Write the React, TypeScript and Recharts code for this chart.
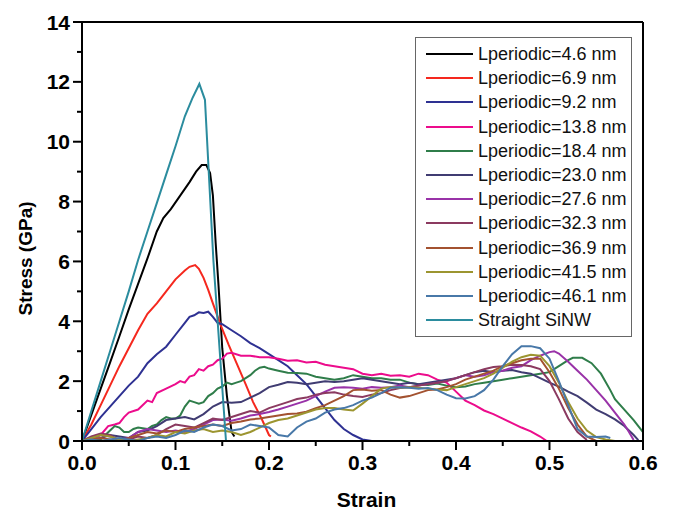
import { LineChart, Line, XAxis, YAxis, Legend, Label } from 'recharts'

// --- Data: [strain, stress GPa] ---

const l46: [number, number][] = [
  [0, 0], [0.01, 0.87], [0.02, 1.75], [0.03, 2.62], [0.04, 3.5], [0.05, 4.4], [0.06, 5.25],
  [0.07, 6.1], [0.08, 7.0], [0.087, 7.45], [0.095, 7.75], [0.105, 8.2], [0.115, 8.65],
  [0.122, 9.0], [0.128, 9.22], [0.133, 9.22], [0.137, 8.95], [0.14, 8.2], [0.143, 6.6],
  [0.146, 5.2], [0.15, 3.1], [0.155, 1.5], [0.16, 0.3], [0.163, 0.15],
]

const l69: [number, number][] = [
  [0, 0], [0.01, 0.55], [0.02, 1.2], [0.03, 1.85], [0.04, 2.5], [0.05, 3.1], [0.06, 3.7],
  [0.07, 4.25], [0.08, 4.6], [0.09, 5.0], [0.1, 5.4], [0.11, 5.7], [0.115, 5.82], [0.121, 5.88],
  [0.125, 5.75], [0.13, 5.45], [0.135, 5.05], [0.14, 4.6], [0.148, 3.9], [0.157, 3.2],
  [0.166, 2.55], [0.175, 1.9], [0.183, 1.3], [0.192, 0.75], [0.2, 0.2], [0.202, 0.15],
]

const l92: [number, number][] = [
  [0, 0], [0.01, 0.4], [0.02, 0.8], [0.03, 1.15], [0.04, 1.5], [0.05, 1.85], [0.06, 2.15],
  [0.07, 2.6], [0.08, 2.9], [0.09, 3.15], [0.1, 3.55], [0.11, 3.95], [0.115, 4.15], [0.12, 4.2],
  [0.125, 4.3], [0.13, 4.28], [0.135, 4.32], [0.14, 4.15], [0.145, 3.95], [0.15, 3.9],
  [0.16, 3.7], [0.17, 3.5], [0.18, 3.27], [0.19, 3.1], [0.2, 2.9], [0.21, 2.7], [0.22, 2.5],
  [0.23, 2.2], [0.24, 1.9], [0.25, 1.5], [0.26, 1.1], [0.27, 0.7], [0.28, 0.4], [0.29, 0.2],
  [0.3, 0.05], [0.31, 0],
]

const l138: [number, number][] = [
  [0, 0], [0.01, 0.05], [0.02, 0.2], [0.028, 0.5], [0.035, 0.55], [0.04, 0.6], [0.045, 0.8],
  [0.05, 0.95], [0.06, 1.05], [0.07, 1.35], [0.075, 1.3], [0.08, 1.6], [0.09, 1.75], [0.1, 1.9],
  [0.105, 2.0], [0.11, 1.95], [0.115, 2.15], [0.12, 2.2], [0.125, 2.4], [0.13, 2.35],
  [0.135, 2.5], [0.14, 2.55], [0.145, 2.7], [0.15, 2.75], [0.155, 2.92], [0.16, 2.95],
  [0.17, 2.85], [0.18, 2.85], [0.19, 2.8], [0.2, 2.8], [0.21, 2.75], [0.22, 2.68], [0.23, 2.7],
  [0.24, 2.62], [0.25, 2.65], [0.26, 2.55], [0.27, 2.5], [0.28, 2.45], [0.29, 2.4], [0.3, 2.25],
  [0.31, 2.2], [0.32, 2.25], [0.33, 2.18], [0.34, 2.2], [0.35, 2.15], [0.36, 2.25], [0.37, 2.2],
  [0.38, 2.05], [0.39, 1.95], [0.4, 1.65], [0.41, 1.35], [0.42, 1.2], [0.43, 1.02], [0.44, 0.9],
  [0.45, 0.75], [0.46, 0.6], [0.47, 0.45], [0.48, 0.32], [0.49, 0.15], [0.497, 0],
]

const l184: [number, number][] = [
  [0, 0], [0.01, 0], [0.02, 0.05], [0.03, 0.35], [0.035, 0.5], [0.04, 0.45], [0.045, 0.3],
  [0.05, 0.3], [0.055, 0.4], [0.06, 0.45], [0.07, 0.4], [0.075, 0.5], [0.08, 0.55], [0.085, 0.7],
  [0.09, 0.8], [0.095, 0.75], [0.1, 0.75], [0.105, 0.85], [0.11, 1.15], [0.115, 1.35],
  [0.12, 1.3], [0.125, 1.25], [0.13, 1.3], [0.135, 1.5], [0.14, 1.6], [0.145, 1.75],
  [0.15, 1.82], [0.155, 1.95], [0.16, 1.9], [0.165, 1.95], [0.17, 2.0], [0.175, 2.1],
  [0.18, 2.2], [0.185, 2.35], [0.19, 2.45], [0.195, 2.48], [0.2, 2.42], [0.21, 2.35],
  [0.22, 2.28], [0.23, 2.27], [0.24, 2.25], [0.25, 2.15], [0.26, 2.1], [0.27, 2.05], [0.28, 2.1],
  [0.29, 2.2], [0.3, 2.15], [0.31, 2.1], [0.32, 2.1], [0.33, 2.05], [0.34, 2.05], [0.35, 1.95],
  [0.36, 1.9], [0.37, 1.87], [0.38, 1.92], [0.39, 1.85], [0.4, 1.8], [0.41, 1.82], [0.42, 1.9],
  [0.43, 1.95], [0.44, 2.0], [0.45, 2.05], [0.46, 2.1], [0.47, 2.15], [0.48, 2.2], [0.49, 2.25],
  [0.5, 2.3], [0.51, 2.5], [0.52, 2.7], [0.525, 2.78], [0.535, 2.78], [0.545, 2.6],
  [0.555, 2.25], [0.565, 1.7], [0.57, 1.4], [0.58, 1.05], [0.59, 0.7], [0.6, 0.3],
]

const l230: [number, number][] = [
  [0, 0], [0.02, 0.1], [0.03, 0.2], [0.04, 0.15], [0.05, 0.1], [0.06, 0.3], [0.07, 0.35],
  [0.08, 0.5], [0.09, 0.7], [0.1, 0.75], [0.11, 0.8], [0.12, 0.72], [0.13, 0.9], [0.14, 1.15],
  [0.15, 1.3], [0.16, 1.28], [0.17, 1.3], [0.18, 1.45], [0.19, 1.6], [0.2, 1.8], [0.21, 1.88],
  [0.22, 1.97], [0.23, 1.95], [0.24, 1.9], [0.25, 1.95], [0.26, 2.0], [0.27, 1.97], [0.28, 2.0],
  [0.29, 2.05], [0.3, 2.1], [0.31, 2.05], [0.32, 2.0], [0.33, 1.95], [0.34, 1.9], [0.35, 1.95],
  [0.36, 1.9], [0.37, 1.95], [0.38, 2.0], [0.39, 2.05], [0.4, 2.1], [0.41, 2.2], [0.42, 2.3],
  [0.43, 2.35], [0.44, 2.3], [0.45, 2.35], [0.46, 2.37], [0.47, 2.3], [0.48, 2.25], [0.49, 2.1],
  [0.5, 1.95], [0.51, 1.82], [0.52, 1.65], [0.53, 1.5], [0.54, 1.28], [0.55, 1.05], [0.56, 0.9],
  [0.57, 0.72], [0.58, 0.5], [0.59, 0.2], [0.595, 0.03],
]

const l276: [number, number][] = [
  [0, 0], [0.01, 0.1], [0.02, 0.2], [0.03, 0.15], [0.04, 0.05], [0.05, 0.1], [0.06, 0.3],
  [0.07, 0.4], [0.08, 0.35], [0.09, 0.3], [0.1, 0.35], [0.11, 0.3], [0.12, 0.4], [0.13, 0.55],
  [0.14, 0.7], [0.15, 0.72], [0.16, 0.68], [0.17, 0.75], [0.18, 0.85], [0.19, 0.9], [0.2, 0.97],
  [0.21, 1.05], [0.22, 1.15], [0.23, 1.25], [0.24, 1.35], [0.25, 1.5], [0.26, 1.65],
  [0.27, 1.78], [0.28, 1.8], [0.29, 1.78], [0.3, 1.75], [0.31, 1.8], [0.32, 1.78], [0.33, 1.8],
  [0.34, 1.85], [0.35, 1.8], [0.36, 1.85], [0.37, 1.9], [0.38, 1.95], [0.39, 2.0], [0.4, 2.1],
  [0.41, 2.2], [0.42, 2.15], [0.43, 2.2], [0.44, 2.3], [0.45, 2.35], [0.46, 2.45], [0.47, 2.5],
  [0.48, 2.7], [0.49, 2.85], [0.5, 2.97], [0.505, 3.0], [0.51, 2.92], [0.52, 2.65],
  [0.53, 2.35], [0.54, 2.05], [0.55, 1.7], [0.56, 1.35], [0.57, 0.95], [0.58, 0.55],
  [0.585, 0.3], [0.59, 0.03],
]

const l323: [number, number][] = [
  [0, 0], [0.01, 0.15], [0.02, 0.25], [0.03, 0.2], [0.04, 0], [0.05, 0.05], [0.06, 0.15],
  [0.07, 0.1], [0.08, 0.2], [0.09, 0.4], [0.1, 0.55], [0.11, 0.5], [0.12, 0.45], [0.13, 0.6],
  [0.14, 0.75], [0.15, 0.7], [0.16, 0.8], [0.17, 0.9], [0.18, 1.0], [0.19, 0.95], [0.2, 1.1],
  [0.21, 1.2], [0.22, 1.3], [0.23, 1.4], [0.24, 1.45], [0.25, 1.55], [0.26, 1.6], [0.27, 1.63],
  [0.28, 1.55], [0.29, 1.5], [0.3, 1.47], [0.31, 1.55], [0.32, 1.6], [0.33, 1.7], [0.34, 1.77],
  [0.35, 1.8], [0.36, 1.85], [0.37, 1.9], [0.38, 1.95], [0.39, 2.0], [0.4, 2.1], [0.41, 2.2],
  [0.42, 2.3], [0.43, 2.4], [0.44, 2.47], [0.45, 2.5], [0.46, 2.55], [0.47, 2.54], [0.48, 2.5],
  [0.49, 2.4], [0.5, 2.0], [0.51, 1.4], [0.52, 0.75], [0.53, 0.3], [0.54, 0.03],
]

const l369: [number, number][] = [
  [0, 0], [0.01, 0.05], [0.02, 0.1], [0.03, 0.05], [0.04, 0], [0.05, 0.1], [0.06, 0.2],
  [0.07, 0.3], [0.08, 0.25], [0.09, 0.35], [0.1, 0.3], [0.11, 0.4], [0.12, 0.45], [0.13, 0.5],
  [0.14, 0.55], [0.15, 0.5], [0.16, 0.6], [0.17, 0.65], [0.18, 0.72], [0.19, 0.75], [0.2, 0.8],
  [0.21, 0.85], [0.22, 0.9], [0.23, 0.92], [0.24, 0.98], [0.25, 1.1], [0.26, 1.2], [0.27, 1.35],
  [0.28, 1.5], [0.29, 1.7], [0.3, 1.72], [0.31, 1.68], [0.32, 1.7], [0.33, 1.55], [0.34, 1.45],
  [0.35, 1.5], [0.36, 1.6], [0.37, 1.7], [0.38, 1.72], [0.39, 1.8], [0.4, 1.9], [0.41, 2.05],
  [0.42, 2.15], [0.43, 2.25], [0.44, 2.35], [0.45, 2.5], [0.46, 2.6], [0.47, 2.7], [0.48, 2.75],
  [0.49, 2.75], [0.5, 2.3], [0.51, 1.75], [0.52, 1.1], [0.53, 0.55], [0.54, 0.15], [0.55, 0],
]

const l415: [number, number][] = [
  [0, 0], [0.01, 0.1], [0.02, 0.2], [0.03, 0.15], [0.04, 0.05], [0.05, 0], [0.06, 0.05],
  [0.07, 0.1], [0.08, 0.2], [0.09, 0.15], [0.1, 0.3], [0.11, 0.25], [0.12, 0.35], [0.13, 0.4],
  [0.14, 0.3], [0.15, 0.35], [0.16, 0.3], [0.17, 0.2], [0.18, 0.3], [0.19, 0.45], [0.2, 0.6],
  [0.21, 0.7], [0.22, 0.75], [0.23, 0.85], [0.24, 0.95], [0.25, 1.05], [0.26, 1.1], [0.27, 1.1],
  [0.28, 1.05], [0.29, 1.02], [0.3, 1.25], [0.31, 1.5], [0.32, 1.75], [0.33, 1.8], [0.34, 1.78],
  [0.35, 1.8], [0.36, 1.78], [0.37, 1.75], [0.38, 1.72], [0.39, 1.7], [0.4, 1.8], [0.41, 1.9],
  [0.42, 2.0], [0.43, 2.1], [0.44, 2.25], [0.45, 2.45], [0.46, 2.65], [0.47, 2.8], [0.48, 2.88],
  [0.49, 2.85], [0.5, 2.5], [0.51, 1.95], [0.52, 1.3], [0.53, 0.75], [0.54, 0.35], [0.55, 0.13],
  [0.56, 0.05], [0.57, 0],
]

const l461: [number, number][] = [
  [0, 0], [0.01, 0.05], [0.02, 0], [0.03, 0.05], [0.04, 0.1], [0.05, 0.05], [0.06, 0],
  [0.07, 0.1], [0.08, 0.15], [0.09, 0.1], [0.1, 0.2], [0.11, 0.35], [0.12, 0.3], [0.13, 0.45],
  [0.14, 0.55], [0.15, 0.5], [0.16, 0.35], [0.17, 0.4], [0.18, 0.55], [0.19, 0.5], [0.2, 0.45],
  [0.21, 0.2], [0.22, 0.15], [0.23, 0.45], [0.24, 0.65], [0.25, 0.75], [0.26, 0.95],
  [0.27, 1.05], [0.28, 1.1], [0.29, 1.2], [0.3, 1.35], [0.31, 1.45], [0.32, 1.6], [0.33, 1.78],
  [0.34, 1.8], [0.35, 1.78], [0.36, 1.75], [0.37, 1.77], [0.38, 1.7], [0.39, 1.55], [0.4, 1.43],
  [0.41, 1.42], [0.42, 1.5], [0.43, 1.7], [0.44, 2.05], [0.45, 2.5], [0.46, 2.9], [0.47, 3.17],
  [0.48, 3.17], [0.49, 3.1], [0.5, 2.75], [0.51, 2.0], [0.52, 1.2], [0.53, 0.4], [0.54, 0.15],
  [0.55, 0.13], [0.56, 0.15], [0.565, 0.1],
]

const straight: [number, number][] = [
  [0, 0], [0.01, 1.0], [0.02, 2.0], [0.03, 3.0], [0.04, 4.0], [0.05, 5.0], [0.06, 6.05],
  [0.07, 7.0], [0.08, 7.95], [0.09, 8.9], [0.1, 9.85], [0.11, 10.85], [0.118, 11.45],
  [0.1255, 11.93], [0.1315, 11.4], [0.1405, 6.05], [0.154, 0],
]

const seriesNames = [
  'Lperiodic=4.6 nm', 'Lperiodic=6.9 nm', 'Lperiodic=9.2 nm', 'Lperiodic=13.8 nm',
  'Lperiodic=18.4 nm', 'Lperiodic=23.0 nm', 'Lperiodic=27.6 nm', 'Lperiodic=32.3 nm',
  'Lperiodic=36.9 nm', 'Lperiodic=41.5 nm', 'Lperiodic=46.1 nm', 'Straight SiNW',
]
const seriesColors = [
  '#000000', '#f5281e', '#2e3192', '#ec0c8c', '#2f7d4a', '#403c72',
  '#9932a8', '#8b3a60', '#a35230', '#9c9530', '#4878a8', '#2b8c9e',
]
const seriesData = [l46, l69, l92, l138, l184, l230, l276, l323, l369, l415, l461, straight]

const xTicks = [0, 0.05, 0.1, 0.15, 0.2, 0.25, 0.3, 0.35, 0.4, 0.45, 0.5, 0.55, 0.6]
const yTicks = [0, 1, 2, 3, 4, 5, 6, 7, 8, 9, 10, 11, 12, 13, 14]

// --- Ticks ---

const tickFont = {
  fontFamily: 'Arial, "Liberation Sans", sans-serif',
  fontWeight: 700,
  fontSize: 21,
  fill: '#000',
}
const isMajorX = (v: number) => Math.abs(v * 10 - Math.round(v * 10)) < 1e-6
const isMajorY = (v: number) => v % 2 === 0

const BottomTick = ({ x, y, payload }: any) => {
  const major = isMajorX(payload.value)
  return (
    <g>
      <line x1={x} x2={x} y1={y} y2={y + (major ? 9 : 5)} stroke="#000" strokeWidth={2} />
      {major && (
        <text x={x} y={y + 29} textAnchor="middle" style={tickFont}>
          {payload.value.toFixed(1)}
        </text>
      )}
    </g>
  )
}

const LeftTick = ({ x, y, payload }: any) => {
  const major = isMajorY(payload.value)
  return (
    <g>
      <line x1={x} x2={x - (major ? 9 : 5)} y1={y} y2={y} stroke="#000" strokeWidth={2} />
      {major && (
        <text x={x - 12} y={y + 7.5} textAnchor="end" style={tickFont}>
          {payload.value}
        </text>
      )}
    </g>
  )
}

const TopTick = ({ x, y, payload }: any) => {
  const major = isMajorX(payload.value)
  return <line x1={x} x2={x} y1={y} y2={y + (major ? 9 : 5)} stroke="#000" strokeWidth={2} />
}

const RightTick = ({ x, y, payload }: any) => {
  const major = isMajorY(payload.value)
  return <line x1={x} x2={x - (major ? 9 : 5)} y1={y} y2={y} stroke="#000" strokeWidth={2} />
}

// --- Legend (kept in series order, not sorted) ---

const LegendBox = () => (
  <div
    style={{
      border: '1px solid #666',
      background: '#fff',
      padding: '4px 0',
      fontFamily: 'Arial, "Liberation Sans", sans-serif',
      fontSize: 18,
      color: '#111',
    }}
  >
    {seriesNames.map((name, i) => (
      <div key={name} style={{ display: 'flex', alignItems: 'center', height: 24.2 }}>
        <span
          style={{ display: 'inline-block', width: 47, height: 2, marginLeft: 10, background: seriesColors[i] }}
        />
        <span style={{ marginLeft: 5, lineHeight: '24px' }}>{name}</span>
      </div>
    ))}
  </div>
)

const toPoints = (arr: [number, number][]) => arr.map(([x, y]) => ({ x, y }))

export default function App() {
  return (
    <div style={{ position: 'absolute', left: 0, top: 0, background: '#fff' }}>
      <LineChart width={678} height={513} margin={{ top: 0, right: 0, bottom: 0, left: 0 }}>
        <XAxis
          dataKey="x"
          type="number"
          domain={[0, 0.6]}
          ticks={xTicks}
          interval={0}
          height={72}
          tickSize={0}
          tickMargin={0}
          tickLine={false}
          tick={BottomTick}
          axisLine={{ stroke: '#000', strokeWidth: 2 }}
        >
          <Label
            content={({ viewBox }: any) => (
              <text
                x={viewBox.x + viewBox.width / 2 + 4}
                y={viewBox.y + 66}
                textAnchor="middle"
                style={{ ...tickFont, fontSize: 21 }}
              >
                Strain
              </text>
            )}
          />
        </XAxis>
        <XAxis
          xAxisId="top"
          orientation="top"
          dataKey="x"
          type="number"
          domain={[0, 0.6]}
          ticks={xTicks}
          interval={0}
          height={22}
          tickSize={0}
          tickMargin={0}
          tickLine={false}
          tick={TopTick}
          axisLine={{ stroke: '#000', strokeWidth: 2 }}
        />
        <YAxis
          type="number"
          domain={[0, 14]}
          ticks={yTicks}
          interval={0}
          width={82}
          tickSize={0}
          tickMargin={0}
          tickLine={false}
          tick={LeftTick}
          axisLine={{ stroke: '#000', strokeWidth: 2 }}
        >
          <Label
            content={({ viewBox }: any) => {
              const cx = viewBox.x + 25
              const cy = viewBox.y + viewBox.height / 2 + 27
              return (
                <text
                  x={cx}
                  y={cy}
                  transform={`rotate(-90 ${cx} ${cy})`}
                  textAnchor="middle"
                  dominantBaseline="central"
                  style={{ ...tickFont, fontSize: 19 }}
                >
                  Stress (GPa)
                </text>
              )
            }}
          />
        </YAxis>
        <YAxis
          yAxisId="right"
          orientation="right"
          type="number"
          domain={[0, 14]}
          ticks={yTicks}
          interval={0}
          width={35}
          tickSize={0}
          tickMargin={0}
          tickLine={false}
          tick={RightTick}
          axisLine={{ stroke: '#000', strokeWidth: 2 }}
        />
        <Legend
          layout="horizontal"
          verticalAlign="middle"
          align="center"
          content={LegendBox}
          wrapperStyle={{ left: 415, top: 37, width: 217 }}
        />
        {seriesData.map((arr, i) => (
          <Line
            key={seriesNames[i]}
            name={seriesNames[i]}
            data={toPoints(arr)}
            dataKey="y"
            type="linear"
            stroke={seriesColors[i]}
            strokeWidth={2}
            dot={false}
            isAnimationActive={false}
          />
        ))}
      </LineChart>
    </div>
  )
}
